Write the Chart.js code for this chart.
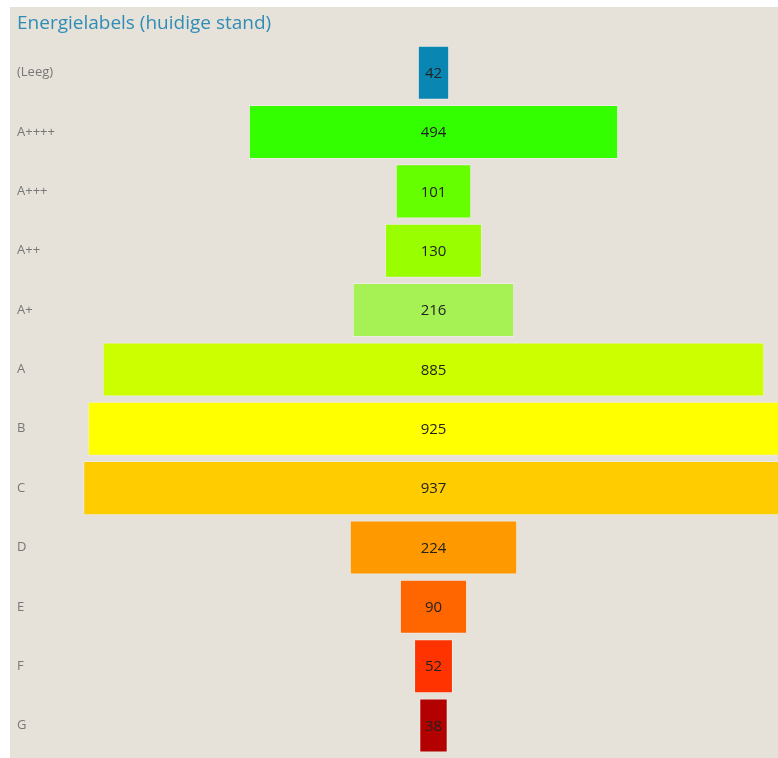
<!DOCTYPE html>
<html>
<head>
<meta charset="utf-8">
<script src="https://cdn.jsdelivr.net/npm/chart.js@4.4.0/dist/chart.umd.min.js"></script>
<style>
  body { margin: 0; background: #fff; }
  #wrap { position: absolute; left: 10px; top: 7px; width: 768px; height: 751px; background: #e6e2d9; overflow: hidden; }
  #title { position: absolute; left: 7px; top: 2px; font: 19px "Open Sans", "Noto Sans", sans-serif; color: #2f8db5; }
  canvas { position: absolute; left: 0; top: 0; }
</style>
</head>
<body>
<div id="wrap">
  <canvas id="funnel" width="768" height="751"></canvas>
  <div id="title">Energielabels (huidige stand)</div>
</div>
<script>
// labels en aantallen
const labels = ["(Leeg)", "A++++", "A+++", "A++", "A+", "A", "B", "C", "D", "E", "F", "G"];
const counts = [42, 494, 101, 130, 216, 885, 925, 937, 224, 90, 52, 38];
const colors = ["#0a86b3", "#33ff00", "#66ff00", "#99ff00", "#a6f255", "#ccff00",
                "#ffff00", "#ffcc00", "#ff9900", "#ff6600", "#ff3300", "#b30000"];

// gecentreerde balken: van -v/2 tot +v/2
const ranges = counts.map(v => [-v / 2, v / 2]);

// midden van de trechter en schaal (px per eenheid) in canvas-coordinaten
const centerPx = 423.5;
const pxPerUnit = 0.7475;

// waarde in het midden van elke balk
const valueLabels = {
    id: 'valueLabels',
    afterDatasetsDraw(chart) {
        const ctx = chart.ctx;
        const meta = chart.getDatasetMeta(0);
        ctx.save();
        ctx.font = '15px "Open Sans", "Noto Sans", sans-serif';
        ctx.fillStyle = '#222';
        ctx.textAlign = 'center';
        ctx.textBaseline = 'middle';
        meta.data.forEach((bar, i) => {
            ctx.fillText(counts[i], (bar.x + bar.base) / 2, bar.y + 1);
        });
        ctx.restore();
    }
};

const chart = new Chart(document.getElementById('funnel'), {
    type: 'bar',
    data: {
        labels: labels,
        datasets: [{
            data: ranges,
            backgroundColor: colors,
            borderColor: 'rgba(255,255,255,0.35)',
            borderWidth: 1,
            borderSkipped: false,
            categoryPercentage: 1,
            barPercentage: 0.91
        }]
    },
    options: {
        indexAxis: 'y',
        responsive: false,
        animation: false,
        layout: { padding: { left: 7, top: 36, bottom: 3, right: 0 } },
        plugins: { legend: { display: false }, tooltip: { enabled: false } },
        scales: {
            x: { display: false, min: -470, max: 460 },
            y: {
                grid: { display: false },
                border: { display: false },
                ticks: {
                    crossAlign: 'far',
                    color: '#777',
                    font: { family: '"Open Sans", "Noto Sans", sans-serif', size: 13 }
                },
                afterFit(scale) {
                    scale.width = 58;
                    scale.paddingTop = 0;
                    scale.paddingBottom = 0;
                }
            }
        }
    },
    plugins: [valueLabels]
});

// x-bereik zo kiezen dat het midden en de schaal kloppen
const area = chart.chartArea;
chart.options.scales.x.min = -(centerPx - area.left) / pxPerUnit;
chart.options.scales.x.max = (area.right - centerPx) / pxPerUnit;
chart.options.layout.padding.bottom += area.bottom - 748.2;
chart.update();
</script>
</body>
</html>
